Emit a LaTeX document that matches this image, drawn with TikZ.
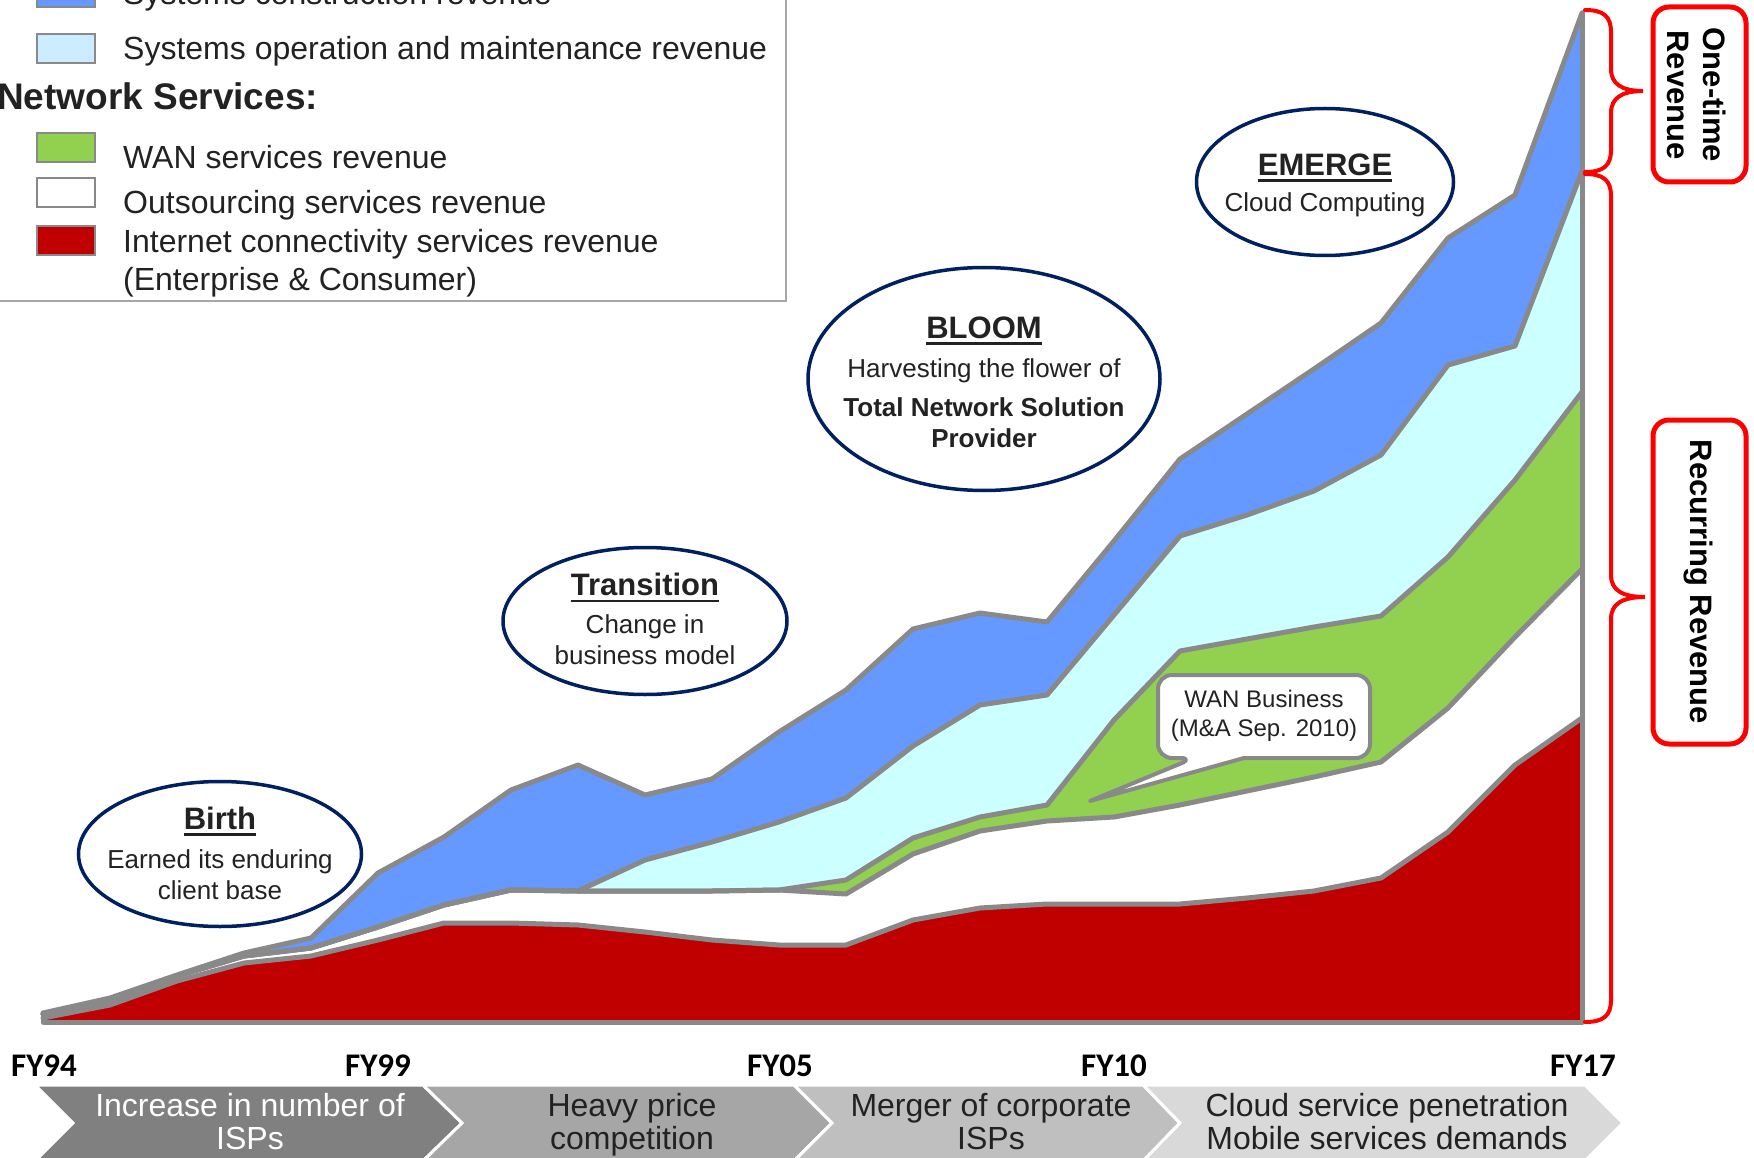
\documentclass[tikz,border=0pt]{standalone}
\usepackage{fontspec}
\setmainfont{Liberation Sans}
\newfontfamily\fyfont{Carlito}
\usetikzlibrary{shapes.geometric}
\definecolor{bluec}{HTML}{6699FF}
\definecolor{cyanc}{HTML}{CCFFFF}
\definecolor{greenc}{HTML}{92D050}
\definecolor{redc}{HTML}{C00000}
\definecolor{linec}{HTML}{898989}
\definecolor{navyc}{HTML}{002060}
\definecolor{legcyan}{HTML}{CCECFF}
\definecolor{txt}{HTML}{222222}
\definecolor{bracered}{HTML}{FF0000}
\definecolor{legframe}{HTML}{A6A6A6}
\definecolor{chA}{HTML}{808080}
\definecolor{chB}{HTML}{A6A6A6}
\definecolor{chC}{HTML}{BFBFBF}
\definecolor{chD}{HTML}{D9D9D9}
\newcommand\titleul[1]{\setbox0\hbox{#1}\rlap{\rule[-6.5pt]{\wd0}{2.2pt}}\box0}
\newcommand\fixht{\vphantom{Ayp}}
\def\Lone{110/1005,177/981,244/963,311/956,378/940,444/923,511/923,578/925,645/932,712/940,779/945,846/945,913/920,980/908,1047/904,1114/904,1180/904,1247/898,1314/891,1381/878,1448/832,1515/765,1582/718}
\def\Ltwo{110/1000,177/976,244/956,311/948,378/927,444/905,511/890,578/891,645/891,712/891,779/890,846/894,913/854,980/831,1047/821,1114/817,1180/805,1247/791,1314/777,1381/762,1448/708,1515/637,1582/569}
\def\Lthree{110/1000,177/976,244/956,311/948,378/927,444/905,511/890,578/891,645/891,712/891,779/890,846/880,913/838,980/817,1047/805,1114/720,1180/651,1247/639,1314/627,1381/616,1448/557,1515/480,1582/392}
\def\Lfour{110/1000,177/976,244/956,311/948,378/927,444/905,511/890,578/891,645/860,712/842,779/822,846/798,913/746,980/705,1047/695,1114/615,1180/536,1247/515,1314/491,1381/455,1448/365,1515/346,1582/171}
\def\Lfive{110/998,177/975,244/953,311/938,378/873,444/837,511/790,578/765,645/795,712/779,779/732,846/690,913/629,980/613,1047/622,1114/541,1180/459,1247/414,1314/369,1381/323,1448/238,1515/195,1582/13}
\begin{document}
\begin{tikzpicture}[x=1pt,y=-1pt,
  gline/.style={draw=linec,line width=5pt,line join=round,line cap=round},
  phase/.style={ellipse,draw=navyc,line width=3.5pt,fill=white,inner sep=0pt},
  phasetxt/.style={inner sep=0pt,align=center,text=txt,font=\fontsize{26}{31}\selectfont},
  legbox/.style={draw=linec,line width=2pt},
  legtxt/.style={anchor=base west,font=\fontsize{32}{38}\selectfont,text=txt,inner sep=0pt},
  chev/.style={draw=white,line width=3pt,line join=miter},
  chevtxt/.style={align=center,font=\fontsize{32}{33}\selectfont,inner sep=0pt},
  fylab/.style={font=\fyfont\bfseries\fontsize{33}{33}\selectfont,inner sep=0pt,text=black},
  bracepath/.style={draw=bracered,line width=4pt,line cap=round},
  redbox/.style={draw=bracered,line width=5pt,rounded corners=16pt,fill=white},
  sidetxt/.style={rotate=-90,align=center,font=\bfseries\fontsize{31}{36}\selectfont,text=black,inner sep=0pt},
  wanshape/.style={draw=linec,line width=4pt,fill=white,line join=round}]
\useasboundingbox (0,0) rectangle (1754,1158);
\clip (0,0) rectangle (1754,1158);
% ---- stacked areas
\fill[bluec] (43,1022) -- (43,1013) \foreach \x/\y in \Lfive {-- (\x,\y)} -- (1582,1022) -- cycle;
\fill[cyanc] (43,1022) -- (43,1014) \foreach \x/\y in \Lfour {-- (\x,\y)} -- (1582,1022) -- cycle;
\fill[greenc] (43,1022) -- (43,1014) \foreach \x/\y in \Lthree {-- (\x,\y)} -- (1582,1022) -- cycle;
\fill[white] (43,1022) -- (43,1014) \foreach \x/\y in \Ltwo {-- (\x,\y)} -- (1582,1022) -- cycle;
\fill[redc] (43,1022) -- (43,1018) \foreach \x/\y in \Lone {-- (\x,\y)} -- (1582,1022) -- cycle;
\draw[gline] (43,1018) \foreach \x/\y in \Lone {-- (\x,\y)};
\draw[gline] (43,1014) \foreach \x/\y in \Ltwo {-- (\x,\y)};
\draw[gline] (43,1014) \foreach \x/\y in \Lthree {-- (\x,\y)};
\draw[gline] (43,1014) \foreach \x/\y in \Lfour {-- (\x,\y)};
\draw[gline] (43,1013) \foreach \x/\y in \Lfive {-- (\x,\y)};
\draw[gline] (43,1013) -- (43,1022) -- (1582,1022) -- (1582,13);
% ---- WAN callout
\draw[wanshape,rounded corners=14pt] (1244,758) -- (1370,758) -- (1370,675) -- (1158,675) -- (1158,758) -- (1194,758) [sharp corners] -- (1090,801) -- cycle;
\node[align=center,font=\fontsize{24}{29}\selectfont,text=txt,inner sep=0pt] (wan) at (1264,716) {WAN Business\\(M\&A Sep. 2010)};
% ---- phase ellipses
\node[phase,minimum width=283pt,minimum height=145pt] (birth) at (220,854) {};
\node[phasetxt] (birthtext) at (220,853) {\titleul{\fontsize{31}{37}\selectfont\bfseries Birth}\\[8pt]Earned its enduring\\client base};
\node[phase,minimum width=284pt,minimum height=147pt] (transition) at (645,621) {};
\node[phasetxt] (transitiontext) at (645,619) {\titleul{\fontsize{31}{37}\selectfont\bfseries Transition}\\[7pt]Change in\\business model};
\node[phase,minimum width=352pt,minimum height=223pt] (bloom) at (984,379) {};
\node[phasetxt] (bloomtext) at (984,382) {\titleul{\fontsize{31}{37}\selectfont\bfseries BLOOM}\\[8pt]Harvesting the flower of\\[8pt]\textbf{Total Network Solution}\\\textbf{Provider}};
\node[phase,minimum width=257pt,minimum height=147pt] (emerge) at (1325,182) {};
\node[phasetxt] (emergetext) at (1325,185) {\titleul{\fontsize{31}{37}\selectfont\bfseries EMERGE}\\[5pt]Cloud Computing};
% ---- legend
\draw[draw=legframe,line width=2pt,fill=white] (-10,-40) rectangle (786,301);
\filldraw[legbox,fill=bluec] (37,-22) rectangle (95,7);
\filldraw[legbox,fill=legcyan] (37,34) rectangle (95,63);
\filldraw[legbox,fill=greenc] (37,133) rectangle (95,162);
\filldraw[legbox,fill=white] (37,178) rectangle (95,207);
\filldraw[legbox,fill=redc] (37,226) rectangle (95,255);
\node[legtxt] (lg1) at (123,5) {Systems construction revenue};
\node[legtxt] (lg2) at (123,60) {Systems operation and maintenance revenue};
\node[legtxt,font=\bfseries\fontsize{37}{40}\selectfont] (lgns) at (-3,110) {Network Services:};
\node[legtxt] (lg3) at (123,169) {WAN services revenue};
\node[legtxt] (lg4) at (123,214) {Outsourcing services revenue};
\node[legtxt] (lg5) at (123,253) {Internet connectivity services revenue};
\node[legtxt] (lg6) at (123,291) {(Enterprise \& Consumer)};
% ---- braces and side boxes
\draw[bracepath] (1585,10) .. controls (1603,10) and (1611,16) .. (1611,32) -- (1611,69)
  .. controls (1611,84) and (1622,91) .. (1643,91) .. controls (1622,91) and (1611,98) .. (1611,113)
  -- (1611,150) .. controls (1611,166) and (1603,172) .. (1585,172);
\draw[bracepath] (1585,174) .. controls (1603,174) and (1611,180) .. (1611,196) -- (1611,575)
  .. controls (1611,590) and (1622,597) .. (1645,597) .. controls (1622,597) and (1611,604) .. (1611,619)
  -- (1611,1000) .. controls (1611,1016) and (1603,1022) .. (1585,1022);
\draw[redbox] (1653,7) rectangle (1746,182);
\draw[redbox] (1653,420) rectangle (1746,744);
\node[sidetxt] (onetime) at (1697,95) {One-time\\Revenue};
\node[sidetxt] (recur) at (1698,582) {Recurring Revenue};
% ---- FY labels
\node[fylab] (fy94) at (44,1066) {FY94};
\node[fylab] (fy99) at (378,1066) {FY99};
\node[fylab] (fy05) at (780,1066) {FY05};
\node[fylab] (fy10) at (1114,1066) {FY10};
\node[fylab] (fy17) at (1583,1066) {FY17};
% ---- chevrons
\filldraw[chev,fill=chA] (35,1085) -- (423,1085) -- (462,1123) -- (423,1161) -- (35,1161) -- (73,1123) -- cycle;
\filldraw[chev,fill=chB] (423,1085) -- (794,1085) -- (832,1123) -- (794,1161) -- (423,1161) -- (462,1123) -- cycle;
\filldraw[chev,fill=chC] (794,1085) -- (1143,1085) -- (1180,1123) -- (1143,1161) -- (794,1161) -- (832,1123) -- cycle;
\filldraw[chev,fill=chD] (1143,1085) -- (1585,1085) -- (1623,1123) -- (1585,1161) -- (1143,1161) -- (1180,1123) -- cycle;
\node[chevtxt,text=white] (ph1) at (250,1125) {\fixht Increase in number of\\ISPs\fixht};
\node[chevtxt,text=txt] (ph2) at (632,1125) {\fixht Heavy price\\competition\fixht};
\node[chevtxt,text=txt] (ph3) at (991,1125) {\fixht Merger of corporate\\ISPs\fixht};
\node[chevtxt,text=txt] (ph4) at (1387,1125) {\fixht Cloud service penetration\\Mobile services demands\fixht};
\end{tikzpicture}
\end{document}
